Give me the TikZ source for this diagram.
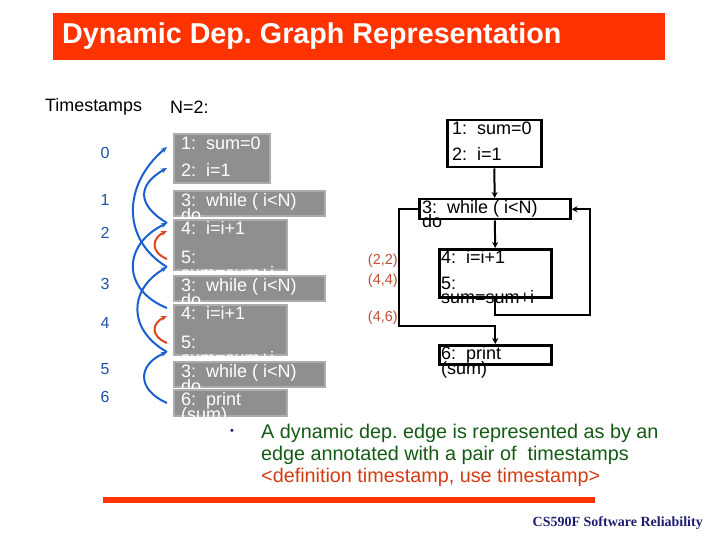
\documentclass[tikz,border=0pt]{standalone}
\usepackage{fontspec}
\setmainfont{Liberation Sans}
\newfontfamily\serifb{Liberation Serif}
\usetikzlibrary{arrows.meta,calc}
\definecolor{titlered}{RGB}{255,51,0}
\definecolor{boxgray}{RGB}{143,143,143}
\definecolor{boxedge}{RGB}{172,172,172}
\definecolor{depblue}{RGB}{25,95,205}
\definecolor{tsblue}{RGB}{30,80,170}
\definecolor{depred}{RGB}{220,70,30}
\definecolor{annot}{RGB}{190,80,50}
\definecolor{bgreen}{RGB}{20,90,20}
\definecolor{bred}{RGB}{210,60,20}
\definecolor{navy}{RGB}{30,30,110}
\frenchspacing
\begin{document}
\frenchspacing
\begin{tikzpicture}[x=1pt,y=-1pt,
  gbox/.style={fill=boxgray, draw=boxedge, line width=2.2pt, inner sep=0pt, anchor=north west},
  gtxt/.style={text=white, anchor=west, inner sep=0pt, text height=12.8pt, text depth=0pt, font=\fontsize{18}{20}\selectfont},
  fbox/.style={draw=black, line width=2.5pt, inner sep=0pt, anchor=north west},
  ftxt/.style={text=black, anchor=west, inner sep=0pt, text height=12.8pt, text depth=0pt, font=\fontsize{18}{20}\selectfont},
  farr/.style={draw=black, line width=2pt, -{Stealth[length=6pt,width=6pt]}},
  dep/.style={draw=depblue, line width=2pt, -{Stealth[length=6pt,width=5pt]}},
  loc/.style={draw=depred, line width=2pt, -{Stealth[length=6pt,width=5pt]}},
  ts/.style={text=tsblue, font=\fontsize{16}{18}\selectfont, inner sep=0pt},
  ann/.style={text=annot, anchor=east, inner sep=0pt, font=\fontsize{14.5}{16}\selectfont},
  btxt/.style={anchor=west, inner sep=0pt, text height=14pt, text depth=0pt, font=\fontsize{19.8}{22}\selectfont}
]
\useasboundingbox (0,0) rectangle (720,540);

% title
\fill[titlered] (53,13) rectangle (665,60);
\node[anchor=west, text=white, inner sep=0pt, font=\bfseries\fontsize{28.7}{31}\selectfont] (title) at (62,36) {Dynamic Dep. Graph Representation};

% headers
\node[anchor=west, inner sep=0pt, font=\fontsize{17.9}{20}\selectfont] (hts) at (45,107) {Timestamps};
\node[anchor=west, inner sep=0pt, font=\fontsize{17.9}{20}\selectfont] (hn) at (170,107) {N=2:};

% timestamps
\node[ts] (t0) at (105,153) {0};
\node[ts] (t1) at (105,200) {1};
\node[ts] (t2) at (105,233) {2};
\node[ts] (t3) at (105,284) {3};
\node[ts] (t4) at (105,323) {4};
\node[ts] (t5) at (105,369) {5};
\node[ts] (t6) at (105,397) {6};

% gray boxes
\node[gbox, minimum width=96pt, minimum height=49pt] (g1) at (173,133) {};
\node[gbox, minimum width=151pt, minimum height=25pt] (g2) at (173,190) {};
\node[gbox, minimum width=113pt, minimum height=50pt] (g3) at (173,219) {};
\node[gbox, minimum width=151pt, minimum height=25pt] (g4) at (173,275) {};
\node[gbox, minimum width=113pt, minimum height=50pt] (g5) at (173,304) {};
\node[gbox, minimum width=151pt, minimum height=25pt] (g6) at (173,361) {};
\node[gbox, minimum width=113pt, minimum height=26pt] (g7) at (173,389) {};

\node[gtxt] (g1a) at (181,143) {1:\ \ sum=0};
\node[gtxt] (g1b) at (181,170) {2:\ \ i=1};
\begin{scope}
\clip (g2.north west) rectangle (g2.south east);
\node[gtxt] (g2a) at (181,200) {3:\ \ while ( i<N)};
\node[gtxt] (g2b) at (181,215) {do};
\end{scope}
\begin{scope}
\clip (g3.north west) rectangle (g3.south east);
\node[gtxt] (g3a) at (181,228) {4:\ \ i=i+1};
\node[gtxt] (g3b) at (181,257) {5:};
\node[gtxt] (g3c) at (181,273) {sum=sum+i};
\end{scope}
\begin{scope}
\clip (g4.north west) rectangle (g4.south east);
\node[gtxt] (g4a) at (181,285) {3:\ \ while ( i<N)};
\node[gtxt] (g4b) at (181,300) {do};
\end{scope}
\begin{scope}
\clip (g5.north west) rectangle (g5.south east);
\node[gtxt] (g5a) at (181,313) {4:\ \ i=i+1};
\node[gtxt] (g5b) at (181,342) {5:};
\node[gtxt] (g5c) at (181,358) {sum=sum+i};
\end{scope}
\begin{scope}
\clip (g6.north west) rectangle (g6.south east);
\node[gtxt] (g6a) at (181,371) {3:\ \ while ( i<N)};
\node[gtxt] (g6b) at (181,386) {do};
\end{scope}
\begin{scope}
\clip (g7.north west) rectangle (g7.south east);
\node[gtxt] (g7a) at (181,399) {6:\ \ print};
\node[gtxt] (g7b) at (181,414) {(sum)};
\end{scope}

% dependence endpoints
\coordinate (p1) at (167,147);
\coordinate (p2) at (167,168);
\coordinate (p4a) at (167,223);
\coordinate (p5a) at (167,267);
\coordinate (p4b) at (167,308);
\coordinate (p5b) at (167,352);
\coordinate (p6) at (167,403);
\coordinate (r1s) at (167,259);
\coordinate (r1e) at (167,231);
\coordinate (r2s) at (167,343);
\coordinate (r2e) at (167,316);

\draw[dep] (p5a) .. controls (122,240) and (122,185) .. (p1);
\draw[dep] (p4a) .. controls (137,205) and (137,185) .. (p2);
\draw[dep] (p4b) .. controls (122,290) and (122,245) .. (p4a);
\draw[dep] (p5b) .. controls (128,330) and (128,290) .. (p5a);
\draw[dep] (p6) .. controls (137,390) and (137,365) .. (p5b);
\draw[loc] (r1s) .. controls (150,252) and (152,238) .. (r1e);
\draw[loc] (r2s) .. controls (150,336) and (152,323) .. (r2e);

% flow graph
\node[fbox, minimum width=94pt, minimum height=47pt] (b1) at (446,119) {};
\node[fbox, minimum width=151pt, minimum height=20pt] (b2) at (418,198) {};
\node[fbox, minimum width=112pt, minimum height=48pt] (b3) at (438,248) {};
\node[fbox, minimum width=112pt, minimum height=19pt] (b4) at (438,344) {};

\node[ftxt] (b1a) at (452,128) {1:\ \ sum=0};
\node[ftxt] (b1b) at (452,154) {2:\ \ i=1};
\node[ftxt] (b2a) at (422,207) {3:\ \ while ( i<N)};
\node[ftxt] (b2b) at (422,221) {do};
\node[ftxt] (b3a) at (441,257) {4:\ \ i=i+1};
\node[ftxt] (b3b) at (441,283) {5:};
\node[ftxt] (b3c) at (441,297) {sum=sum+i};
\node[ftxt] (b4a) at (441,353) {6:\ \ print};
\node[ftxt] (b4b) at (441,368) {(sum)};

\draw[farr] (b1.south) -- (b2.north);
\draw[farr] (b2.south) -- (b3.north);
\draw[farr] (b3.south) -- ++(0,16) -| ([xshift=18pt]b2.east) -- (b2.east);
\draw[farr] (b2.west) -- ++(-19,0) -- ++(0,117) -| (b4.north);

\node[ann] (a1) at (398,261) {(2,2)};
\node[ann] (a2) at (398,281) {(4,4)};
\node[ann] (a3) at (398,318) {(4,6)};

% bullet text
\node[inner sep=0pt, text=navy, font=\fontsize{11}{12}\selectfont] (bul) at (232,432) {\textbullet};
\node[btxt, text=bgreen] (l1) at (261,431) {A dynamic dep. edge is represented as by an};
\node[btxt, text=bgreen] (l2) at (261,453) {edge annotated with a pair of\ \ timestamps};
\node[btxt, text=bred] (l3) at (261,475) {<definition timestamp, use timestamp>};

% rule and footer
\fill[titlered] (103,497) rectangle (595,503);
\node[anchor=east, inner sep=0pt, text=navy, font=\serifb\bfseries\fontsize{14}{16}\selectfont] (foot) at (703,523) {CS590F Software Reliability};
\end{tikzpicture}
\end{document}
